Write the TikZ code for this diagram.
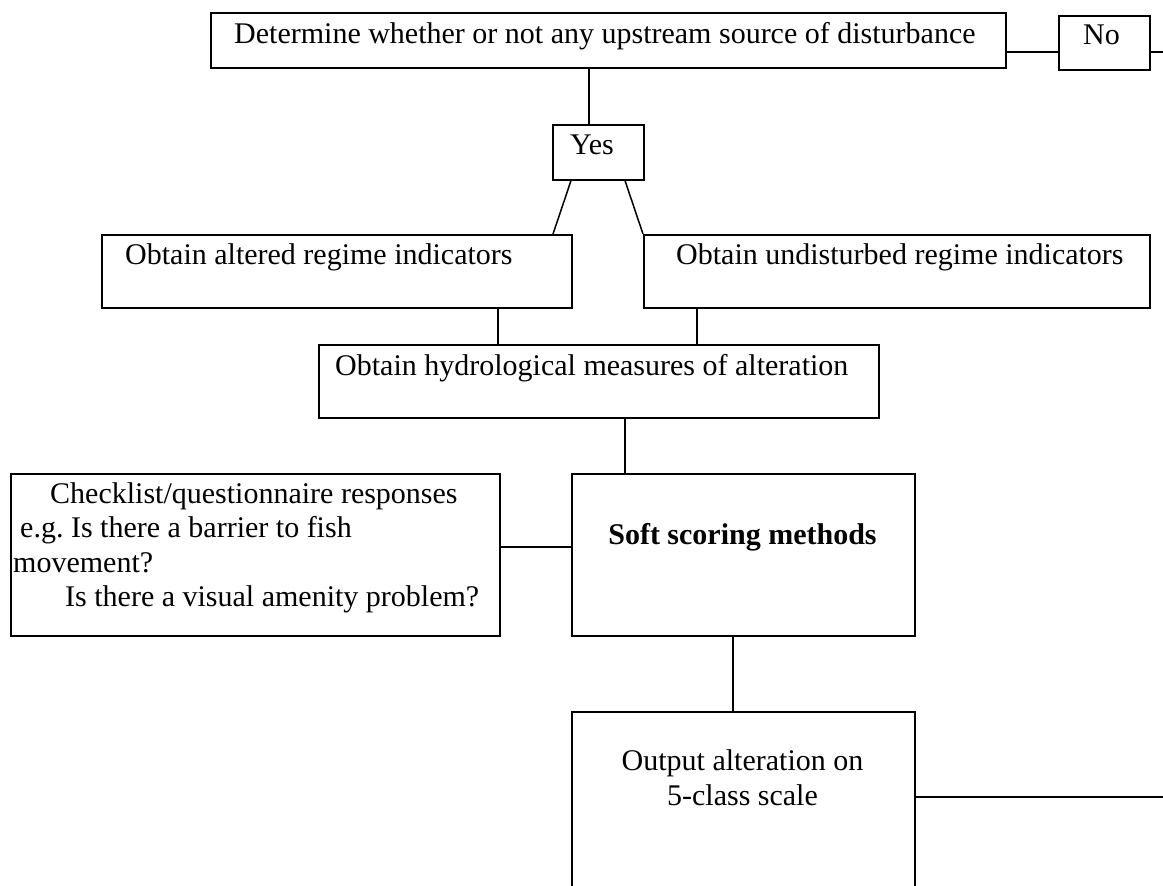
\documentclass[tikz,border=0pt]{standalone}
\usepackage{fontspec}
\setmainfont{Liberation Serif}
\frenchspacing
\begin{document}
\begin{tikzpicture}[x={(1pt,0)},y={(0,-1pt)},
  box/.style={draw=black,line width=1.6pt,inner sep=0pt,anchor=north west},
  txt/.style={inner sep=0pt,anchor=base west,font=\fontsize{30}{34.5}\selectfont},
  link/.style={draw=black,line width=1.5pt}]
\useasboundingbox[fill=white] (0,0) rectangle (1163,886);
% boxes
\node[box,minimum width=795pt,minimum height=55pt] (top) at (210,12) {};
\node[box,minimum width=91pt,minimum height=54pt] (nob) at (1058,15) {};
\node[box,minimum width=91pt,minimum height=55pt] (yes) at (552,124) {};
\node[box,minimum width=470pt,minimum height=73pt] (alt) at (101,234) {};
\node[box,minimum width=506pt,minimum height=73pt] (und) at (643,234) {};
\node[box,minimum width=560pt,minimum height=73pt] (hyd) at (318,344) {};
\node[box,minimum width=489pt,minimum height=162pt] (chk) at (10,473) {};
\node[box,minimum width=343pt,minimum height=162pt] (soft) at (571,473) {};
\node[box,minimum width=343pt,minimum height=200pt] (out) at (571,711) {};
% texts
\node[txt] (ttop) at (234,43) {Determine whether or not any upstream source of disturbance};
\node[txt] (tno) at (1083,44) {No};
\node[txt] (tyes) at (570,154) {Yes};
\node[txt] (talt) at (125,264) {Obtain altered regime indicators};
\node[txt] (tund) at (676,264) {Obtain undisturbed regime indicators};
\node[txt] (thyd) at (335,375) {Obtain hydrological measures of alteration};
\node[txt] (tc1) at (50,503) {Checklist/questionnaire responses};
\node[txt] (tc2) at (20,537.5) {e.g. Is there a barrier to fish};
\node[txt] (tc3) at (13,572) {movement?};
\node[txt] (tc4) at (65,606.5) {Is there a visual amenity problem?};
\node[txt,anchor=base,font=\fontsize{30}{34.5}\selectfont\bfseries] (tsoft) at (742.5,544) {Soft scoring methods};
\node[txt,anchor=base] (to1) at (742.5,770) {Output alteration on};
\node[txt,anchor=base] (to2) at (742.5,805) {5-class scale};
% connectors
\coordinate (redge1) at (1163,52);
\coordinate (redge2) at (1163,797);
\draw[link] (top.east |- redge1) -- (nob.west |- redge1);
\draw[link] (nob.east |- redge1) -- (redge1);
\draw[link] (top.south -| 589,0) -- (yes.north -| 589,0);
\draw[link] (yes.south -| 571,0) -- (alt.north -| 553,0);
\draw[link] (yes.south -| 625,0) -- (und.north west);
\draw[link] (alt.south -| 498,0) -- (hyd.north -| 498,0);
\draw[link] (und.south -| 697,0) -- (hyd.north -| 697,0);
\draw[link] (hyd.south -| 625,0) -- (soft.north -| 625,0);
\draw[link] (chk.east |- 0,547) -- (soft.west |- 0,547);
\draw[link] (soft.south -| 733,0) -- (out.north -| 733,0);
\draw[link] (out.east |- redge2) -- (redge2);
\end{tikzpicture}
\end{document}
